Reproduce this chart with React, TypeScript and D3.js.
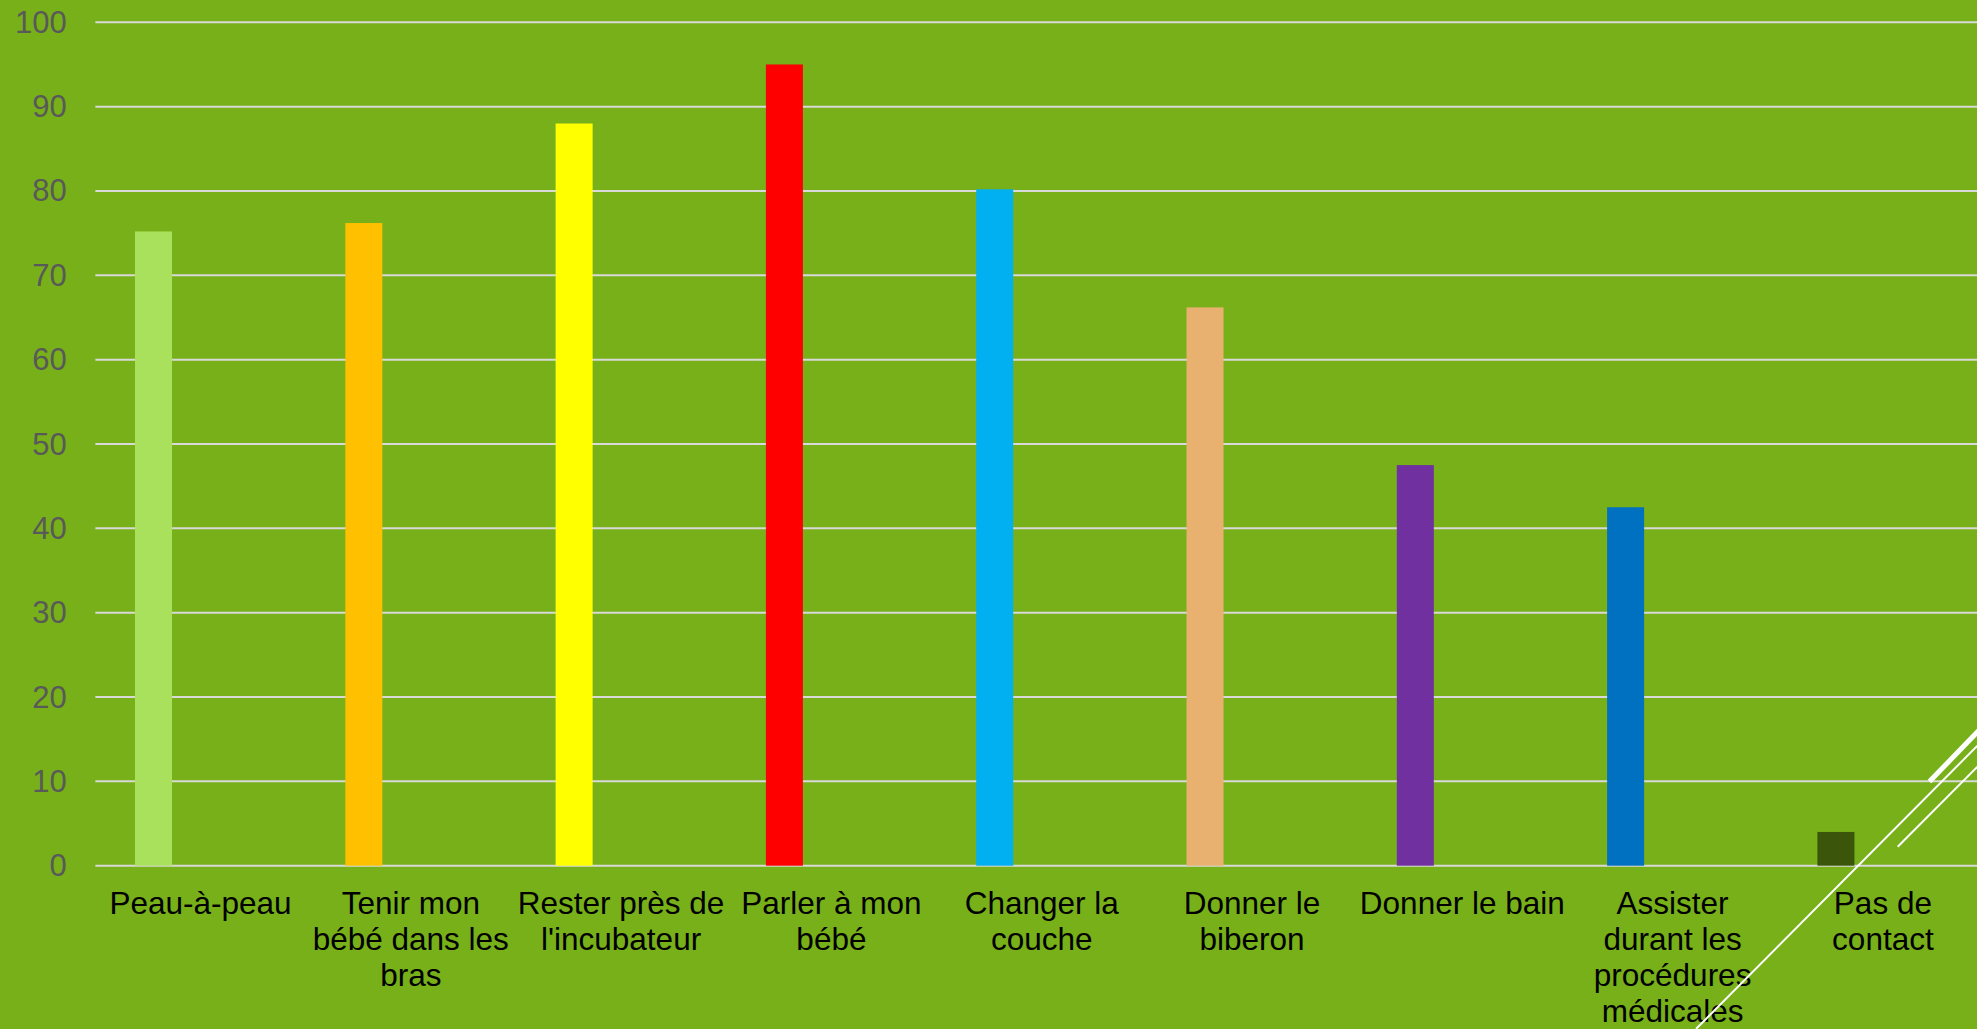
import React from "react";
import * as d3 from "d3";

const categories = [
  "Peau-à-peau",
  "Tenir mon bébé dans les bras",
  "Rester près de l'incubateur",
  "Parler à mon bébé",
  "Changer la couche",
  "Donner le biberon",
  "Donner le bain",
  "Assister durant les procédures médicales",
  "Pas de contact",
];
const labelLines = [
  ["Peau-à-peau"],
  ["Tenir mon", "bébé dans les", "bras"],
  ["Rester près de", "l'incubateur"],
  ["Parler à mon", "bébé"],
  ["Changer la", "couche"],
  ["Donner le", "biberon"],
  ["Donner le bain"],
  ["Assister", "durant les", "procédures", "médicales"],
  ["Pas de", "contact"],
];
const values = [75.2, 76.2, 88, 95, 80.2, 66.2, 47.5, 42.5, 4];
const barColors = [
  "#A9E15C",
  "#FFC000",
  "#FFFF00",
  "#FF0000",
  "#00B0F0",
  "#E9B16F",
  "#7030A0",
  "#0070C0",
  "#3B560B",
];
const yTicks = [0, 10, 20, 30, 40, 50, 60, 70, 80, 90, 100];

const W = 1977;
const H = 1029;

export default function App() {
  const left = 95.35;
  const band = 210.3;
  const x = d3
    .scaleBand<string>()
    .domain(categories)
    .range([left, left + band * categories.length])
    .padding(0);
  const y = d3.scaleLinear().domain([0, 100]).range([865.7, 22.3]);
  const bw = x.bandwidth();
  const gridRight = W + 20;

  return (
    <svg
      width={W}
      height={H}
      style={{ position: "absolute", left: 0, top: 0, display: "block" }}
    >
      <rect x={0} y={0} width={W} height={H} fill="#77B019" />
      {yTicks.map((t) => (
        <g key={t}>
          <line
            x1={left}
            x2={gridRight}
            y1={y(t)}
            y2={y(t)}
            stroke="#D9D9D9"
            strokeWidth={2}
          />
          <text
            x={66.7}
            y={y(t)}
            textAnchor="end"
            dominantBaseline="central"
            fontFamily="'Liberation Sans', Arial, sans-serif"
            fontSize={31}
            fill="#595959"
          >
            {t}
          </text>
        </g>
      ))}
      {categories.map((c, i) => (
        <rect
          key={c}
          x={(x(c) as number) + bw * 0.1886}
          y={y(values[i])}
          width={bw * 0.176}
          height={y(0) - y(values[i])}
          fill={barColors[i]}
        />
      ))}
      {categories.map((c, i) => (
        <text
          key={c + "l"}
          textAnchor="middle"
          fontFamily="'Liberation Sans', Arial, sans-serif"
          fontSize={31.5}
          fill="#000000"
        >
          {labelLines[i].map((ln, j) => (
            <tspan key={j} x={(x(c) as number) + bw / 2} y={913.7 + j * 36.2}>
              {ln}
            </tspan>
          ))}
        </text>
      ))}
      {/* decorative diagonal lines */}
      <line x1={1696} y1={1029} x2={1990} y2={733} stroke="#FFFFFF" strokeWidth={2} />
      <line x1={1897.7} y1={846.7} x2={1990} y2={754} stroke="#FFFFFF" strokeWidth={2} />
      <line x1={1929.5} y1={781.5} x2={1990} y2={719} stroke="#FFFFFF" strokeWidth={5} />
    </svg>
  );
}
